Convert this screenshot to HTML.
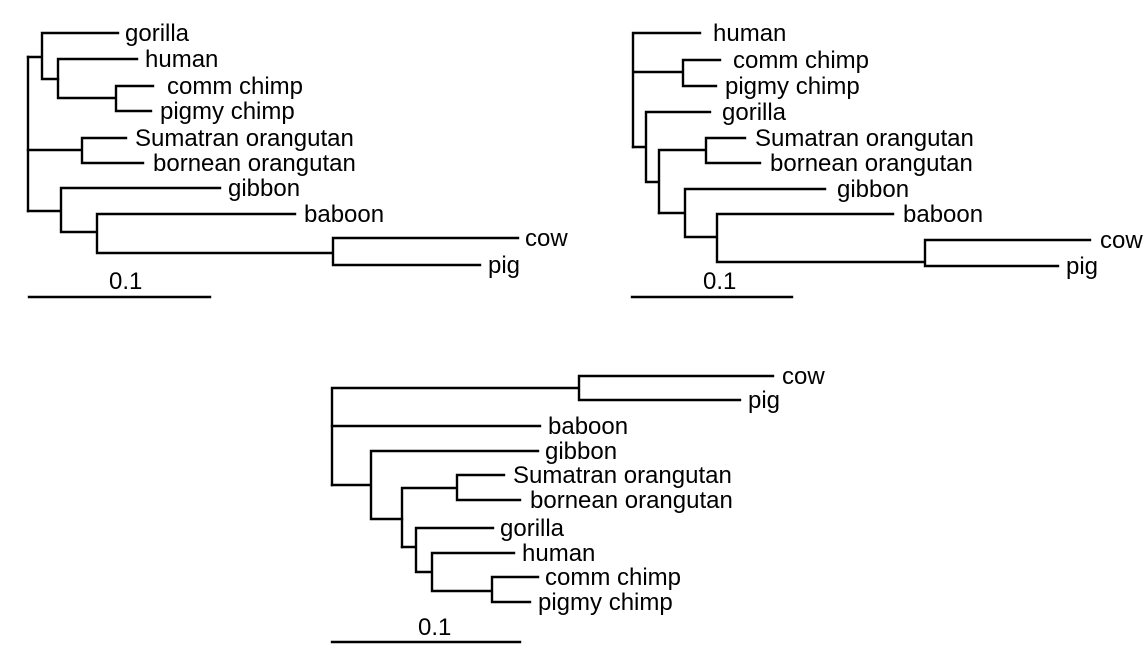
<!DOCTYPE html>
<html><head><meta charset="utf-8"><style>
html,body{margin:0;padding:0;background:#fff;}
svg{display:block;}
text{font-family:"Liberation Sans",Arial,sans-serif;font-size:24px;fill:#000;}
</style></head><body>
<svg width="1147" height="654" viewBox="0 0 1147 654" xmlns="http://www.w3.org/2000/svg">
<g stroke="#000" stroke-width="2.4" fill="none" stroke-linecap="square">
<!-- Tree 1 -->
<path d="M28,57 V211"/>
<path d="M28,57 H42 M42,33 V79 M42,33 H118 M42,79 H58"/>
<path d="M58,59 V98 M58,59 H137 M58,98 H116 M116,86 V111 M116,86 H153 M116,111 H151"/>
<path d="M28,150 H82 M82,138 V163 M82,138 H126 M82,163 H143"/>
<path d="M28,211 H61 M61,188 V232 M61,188 H220 M61,232 H97 M97,214 V253 M97,214 H295 M97,253 H333 M333,238 V265 M333,238 H518 M333,265 H480"/>
<path d="M29,297 H210"/>
<!-- Tree 2 -->
<path d="M633,33 V147 M633,33 H700 M633,72 H683 M683,60 V86 M683,60 H720 M683,86 H716"/>
<path d="M633,147 H646 M646,112 V182 M646,112 H710 M646,182 H659 M659,150 V213 M659,150 H706 M706,138 V163 M706,138 H745 M706,163 H760"/>
<path d="M659,213 H685 M685,189 V237 M685,189 H825 M685,237 H717 M717,214 V262 M717,214 H893 M717,262 H925 M925,240 V266 M925,240 H1090 M925,266 H1058"/>
<path d="M632,297 H792"/>
<!-- Tree 3 -->
<path d="M332,388 V485 M332,388 H579 M579,376 V400 M579,376 H773 M579,400 H740"/>
<path d="M332,426 H540 M332,485 H371 M371,451 V519 M371,451 H538 M371,519 H402"/>
<path d="M402,488 V547 M402,488 H457 M457,475 V500 M457,475 H504 M457,500 H520"/>
<path d="M402,547 H416 M416,528 V572 M416,528 H493 M416,572 H432 M432,553 V591 M432,553 H514 M432,591 H492 M492,577 V602 M492,577 H538 M492,602 H530"/>
<path d="M332,642 H520"/>
</g>
<!-- Labels tree 1 -->
<text x="125" y="41">gorilla</text>
<text x="145" y="67">human</text>
<text x="167" y="94">comm chimp</text>
<text x="160" y="119">pigmy chimp</text>
<text x="135" y="146">Sumatran orangutan</text>
<text x="153" y="171">bornean orangutan</text>
<text x="228" y="196">gibbon</text>
<text x="304" y="222">baboon</text>
<text x="525" y="246">cow</text>
<text x="488" y="273">pig</text>
<text x="109" y="289">0.1</text>
<!-- Labels tree 2 -->
<text x="713" y="41">human</text>
<text x="733" y="68">comm chimp</text>
<text x="725" y="94">pigmy chimp</text>
<text x="722" y="120">gorilla</text>
<text x="755" y="146">Sumatran orangutan</text>
<text x="770" y="171">bornean orangutan</text>
<text x="837" y="197">gibbon</text>
<text x="903" y="222">baboon</text>
<text x="1100" y="248">cow</text>
<text x="1066" y="274">pig</text>
<text x="703" y="289">0.1</text>
<!-- Labels tree 3 -->
<text x="782" y="384">cow</text>
<text x="748" y="408">pig</text>
<text x="548" y="434">baboon</text>
<text x="545" y="459">gibbon</text>
<text x="513" y="483">Sumatran orangutan</text>
<text x="530" y="508">bornean orangutan</text>
<text x="500" y="536">gorilla</text>
<text x="522" y="561">human</text>
<text x="545" y="585">comm chimp</text>
<text x="538" y="610">pigmy chimp</text>
<text x="418" y="635">0.1</text>
</svg>
</body></html>
